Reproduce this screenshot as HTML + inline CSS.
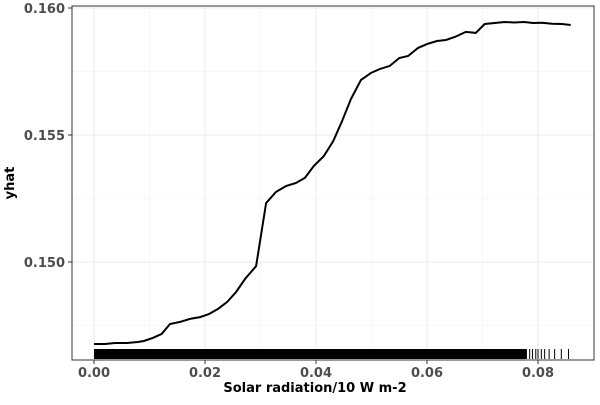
<!DOCTYPE html>
<html><head><meta charset="utf-8"><style>
body{margin:0;background:#fff;}
svg text{font-family:"DejaVu Sans","Liberation Sans",sans-serif;}
</style></head><body>
<svg id="chart" width="600" height="400">
<rect x="0" y="0" width="600" height="400" fill="#fff"/>
<g id="grid"></g>
<g id="rug"></g>
<path id="line" fill="none" stroke="#000" stroke-width="2"/>
<rect x="72" y="6" width="522" height="354" fill="none" stroke="#333" stroke-width="1"/>
<g id="axes"></g>
<text x="315" y="392" font-size="13" font-weight="bold" text-anchor="middle" fill="#000">Solar radiation/10 W m-2</text>
<text x="14" y="183" font-size="13" font-weight="bold" text-anchor="middle" fill="#000" transform="rotate(-90 14 183)">yhat</text>
</svg>
<script>
const xs=[0,0.0020,0.0038,0.0059,0.0079,0.0090,0.0106,0.0122,0.0137,0.0155,0.0173,0.0191,0.0207,0.0223,0.0240,0.0256,0.0272,0.0292,0.0310,0.0328,0.0346,0.0364,0.0380,0.0396,0.0414,0.0431,0.0447,0.0463,0.0481,0.0499,0.0515,0.0533,0.0550,0.0566,0.0584,0.0600,0.0618,0.0634,0.0650,0.0670,0.0688,0.0704,0.0722,0.0740,0.0757,0.0775,0.0791,0.0807,0.0825,0.0843,0.0859];
const ys=[0.14677,0.14677,0.14681,0.14681,0.14685,0.14689,0.14701,0.14717,0.14756,0.14764,0.14776,0.14783,0.14795,0.14815,0.14843,0.14882,0.14933,0.14984,0.15232,0.15276,0.15299,0.15311,0.15331,0.15378,0.15417,0.15476,0.15555,0.15642,0.15717,0.15744,0.15760,0.15772,0.15803,0.15811,0.15843,0.15858,0.15870,0.15874,0.15886,0.15906,0.15902,0.15937,0.15941,0.15945,0.15943,0.15945,0.15941,0.15942,0.15938,0.15937,0.15933];
const xTicks=[0,0.02,0.04,0.06,0.08];
const xTickLabels=["0.00","0.02","0.04","0.06","0.08"];
const yTicks=[0.150,0.155,0.160];
const yTickLabels=["0.150","0.155","0.160"];
const rugSparse=[0.0785,0.0790,0.0796,0.0800,0.0806,0.0812,0.0820,0.0830,0.0842,0.0855];
const X=v=>94+v/0.02*111;
const Y=v=>8+(0.160-v)/0.005*127;
const NS="http://www.w3.org/2000/svg";
const grid=document.getElementById('grid'),axes=document.getElementById('axes'),rug=document.getElementById('rug');
function mk(tag,attrs,parent){const e=document.createElementNS(NS,tag);for(const k in attrs)e.setAttribute(k,attrs[k]);parent.appendChild(e);return e;}
[0.01,0.03,0.05,0.07].forEach(v=>{const l=mk('line',{x1:X(v),x2:X(v),y1:6,y2:360,stroke:'#f2f2f2','stroke-width':0.6},grid);

});
[0.1475,0.1525,0.1575].forEach(v=>{const l=mk('line',{x1:72,x2:594,y1:Y(v),y2:Y(v),stroke:'#f2f2f2','stroke-width':0.6},grid);

});
xTicks.forEach((v,i)=>{const l=mk('line',{x1:X(v),x2:X(v),y1:6,y2:360,stroke:'#ebebeb','stroke-width':1},grid);


const t=mk('line',{x1:X(v),x2:X(v),y1:360,y2:364,stroke:'#333'},axes);


const tx=mk('text',{x:X(v),y:377,'font-size':13,'font-weight':'bold','text-anchor':'middle',fill:'#4d4d4d'},axes);tx.textContent=xTickLabels[i];

});
yTicks.forEach((v,i)=>{const l=mk('line',{x1:72,x2:594,y1:Y(v),y2:Y(v),stroke:'#ebebeb','stroke-width':1},grid);


const t=mk('line',{x1:68,x2:72,y1:Y(v),y2:Y(v),stroke:'#333'},axes);


const tx=mk('text',{x:65,y:Y(v)+5,'font-size':13,'font-weight':'bold','text-anchor':'end',fill:'#4d4d4d'},axes);tx.textContent=yTickLabels[i];

});
const rb=mk('rect',{x:X(0),y:349,width:X(0.078)-X(0),height:10,fill:'#000'},rug);


rugSparse.forEach(v=>{const l=mk('line',{x1:X(v),x2:X(v),y1:349,y2:359,stroke:'#000','stroke-width':1},rug);

});
document.getElementById('line').setAttribute('d',xs.map((v,i)=>(i?'L':'M')+X(v).toFixed(1)+','+Y(ys[i]).toFixed(1)).join(''));
</script>
</body></html>
